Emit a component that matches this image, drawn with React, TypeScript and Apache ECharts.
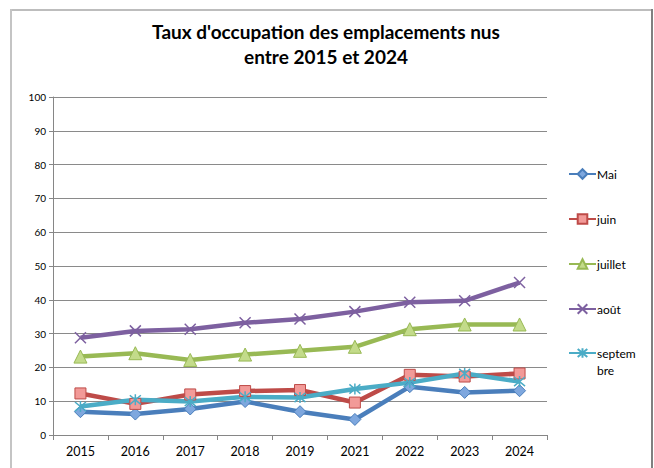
import React, { useEffect, useRef } from "react";
import * as echarts from "echarts";

const years = ["2015", "2016", "2017", "2018", "2019", "2021", "2022", "2023", "2024"];
const mai = [6.9, 6.2, 7.7, 9.9, 6.9, 4.6, 14.3, 12.6, 13.1];
const juin = [12.3, 9.2, 12.0, 13.0, 13.3, 9.6, 17.8, 17.3, 18.2];
const juillet = [23.2, 24.2, 22.2, 23.8, 24.9, 26.1, 31.3, 32.7, 32.7];
const aout = [28.8, 30.8, 31.3, 33.2, 34.3, 36.5, 39.3, 39.7, 45.1];
const septembre = [8.4, 10.4, 9.9, 11.3, 11.1, 13.6, 15.5, 18.2, 15.8];
const yTicks = { min: 0, max: 100, interval: 10 };

const FONT = "Lato, 'Open Sans', sans-serif";
const X_SYM = "path://M0,0L10,10M10,0L0,10";
const AST_SYM = "path://M0,0L10,10M10,0L0,10M5,-1L5,11";

export default function App() {
  const ref = useRef<HTMLDivElement>(null);
  useEffect(() => {
    if (!ref.current) return;
    const chart = echarts.init(ref.current, null, { renderer: "svg" });
    const mk = (
      name: string,
      data: number[],
      color: string,
      fill: string,
      symbol: string,
      size: number,
      borderW: number
    ) => ({
      name,
      type: "line",
      data,
      symbol,
      symbolSize: size,
      lineStyle: { color, width: 4.5 },
      itemStyle: { color: fill, borderColor: color, borderWidth: borderW },
      emphasis: { disabled: true },
    });
    const legendBase = {
      orient: "vertical",
      left: 568,
      padding: 0,
      itemWidth: 27,
      itemHeight: 12,
      itemGap: 28,
    };
    chart.setOption({
      animation: false,
      textStyle: { fontFamily: FONT },
      title: {
        text: "Taux d'occupation des emplacements nus\nentre 2015 et 2024",
        left: 321,
        textAlign: "center",
        top: 14,
        textStyle: { fontFamily: FONT, fontWeight: "bold", fontSize: 19, lineHeight: 25, color: "#000" },
      },
      graphic: [
        { type: "line", shape: { x1: 10, y1: 10, x2: 652, y2: 10 }, style: { stroke: "#bdbdbd", lineWidth: 2 } },
        { type: "line", shape: { x1: 11, y1: 9, x2: 11, y2: 468 }, style: { stroke: "#c4c4c4", lineWidth: 2 } },
        { type: "line", shape: { x1: 652, y1: 9, x2: 652, y2: 468 }, style: { stroke: "#808080", lineWidth: 2 } },
      ],
      legend: [
        {
          ...legendBase,
          top: 165.5,
          textStyle: { fontFamily: FONT, fontSize: 12, color: "#000", padding: [0, 0, 0, -4], lineHeight: 17 },
          data: ["Mai", "juin", "juillet", "août"],
        },
        {
          ...legendBase,
          top: 327.5,
          textStyle: { fontFamily: FONT, fontSize: 12, color: "#000", padding: [0, 0, 0, -4], lineHeight: 17 },
          formatter: (n: string) => (n === "septembre" ? " \nseptem\nbre" : n),
          data: ["septembre"],
        },
      ],
      grid: { left: 53, right: 107, top: 97, bottom: 33, containLabel: false },
      xAxis: {
        type: "category",
        data: years,
        boundaryGap: true,
        axisLine: { lineStyle: { color: "#868686", width: 1 } },
        axisTick: { show: true, length: 5, lineStyle: { color: "#868686" } },
        axisLabel: { color: "#000", fontSize: 12.5, margin: 10, fontFamily: FONT },
      },
      yAxis: {
        type: "value",
        min: yTicks.min,
        max: yTicks.max,
        interval: yTicks.interval,
        axisLine: { show: true, lineStyle: { color: "#868686", width: 1 } },
        axisTick: { show: true, length: 4, lineStyle: { color: "#868686" } },
        axisLabel: { color: "#000", fontSize: 10, margin: 7, fontFamily: FONT },
        splitLine: { lineStyle: { color: "#8a8a8a", width: 1 } },
      },
      series: [
        mk("Mai", mai, "#4A7EBB", "#7EA7DE", "diamond", 12, 1),
        mk("juin", juin, "#BE4B48", "#F29A98", "rect", 11, 1),
        mk("juillet", juillet, "#98B954", "#C3DB8A", "triangle", 13, 1),
        mk("août", aout, "#7D60A0", "#7D60A0", X_SYM, 11, 1.5),
        mk("septembre", septembre, "#4BACC6", "#4BACC6", AST_SYM, 11, 1.5),
      ],
    });
    return () => chart.dispose();
  }, []);
  return (
    <div
      ref={ref}
      style={{ position: "fixed", left: 0, top: 0, width: 654, height: 468, background: "#fff" }}
    />
  );
}
